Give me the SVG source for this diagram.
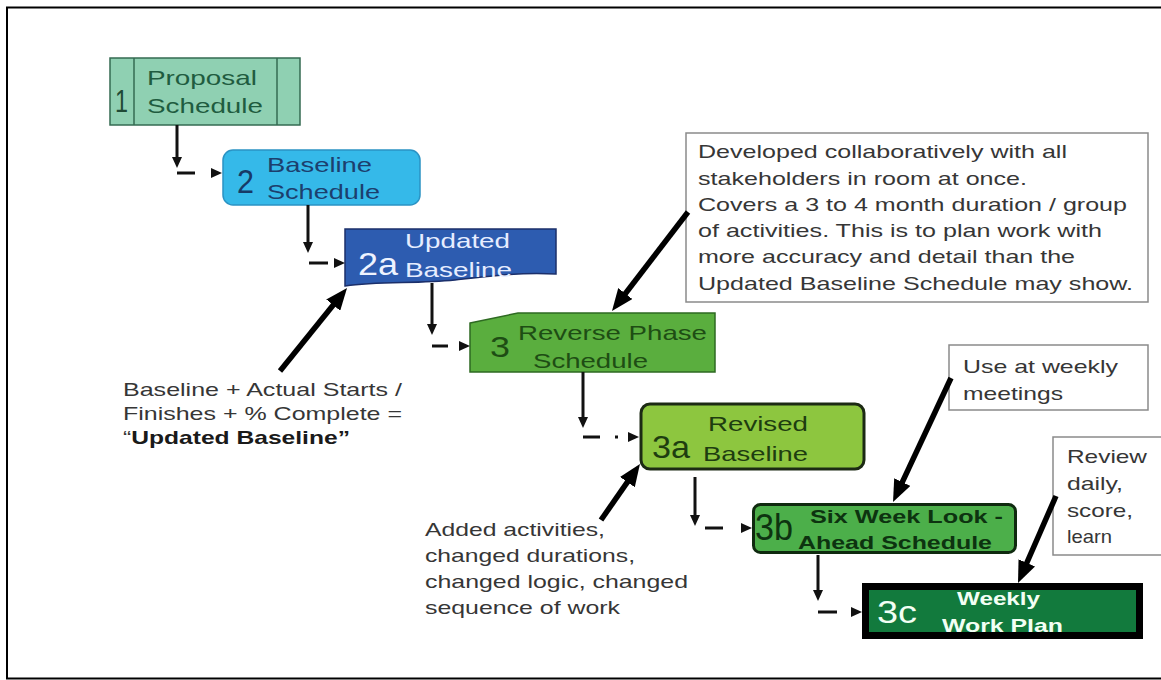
<svg xmlns="http://www.w3.org/2000/svg" width="1161" height="680" viewBox="0 0 1161 680">
  <style>
    text { font-family: "Liberation Sans", Arial, sans-serif; }
    .lbl { font-size: 21px; }
    .num { font-size: 32px; }
    .note { font-size: 19px; fill: #363636; }
    .bold { font-weight: bold; }
    .frame { stroke: #000; stroke-width: 2; fill: none; }
    .callout { fill: #fff; stroke: #8a8a8a; stroke-width: 1.5; }
    .step { stroke: #111; stroke-width: 3; fill: none; }
    .big { stroke: #000; stroke-width: 5.5; fill: none; marker-end: url(#bigHead); }
  </style>
  <defs>
    <marker id="smallHead" markerUnits="userSpaceOnUse" markerWidth="11" markerHeight="10" refX="0" refY="5" orient="auto">
      <path d="M0,0 L11,5 L0,10 Z" fill="#111"/>
    </marker>
    <marker id="bigHead" markerUnits="userSpaceOnUse" markerWidth="22" markerHeight="18" refX="10" refY="9" orient="auto">
      <path d="M0,0 L22,9 L0,18 Z" fill="#000"/>
    </marker>
  </defs>

  <rect width="1161" height="680" fill="#fff"/>

  <!-- page frame -->
  <g id="frame">
    <line class="frame" x1="6" y1="7.5" x2="1161" y2="7.5"/>
    <line class="frame" x1="7" y1="7" x2="7" y2="679"/>
    <line class="frame" x1="6" y1="678.5" x2="1161" y2="678.5"/>
  </g>

  <!-- 1 Proposal Schedule -->
  <g id="node-1">
    <rect x="110" y="58" width="190" height="67" fill="#8fd0b2" stroke="#356b52" stroke-width="1.5"/>
    <line x1="134" y1="58" x2="134" y2="125" stroke="#356b52" stroke-width="1.5"/>
    <line x1="277" y1="58" x2="277" y2="125" stroke="#356b52" stroke-width="1.5"/>
    <text class="num" x="115" y="112" textLength="13" lengthAdjust="spacingAndGlyphs" fill="#1f4a35">1</text>
    <text class="lbl" x="147" y="85" textLength="110" lengthAdjust="spacingAndGlyphs" fill="#1f5c40">Proposal</text>
    <text class="lbl" x="147" y="113" textLength="116" lengthAdjust="spacingAndGlyphs" fill="#1f5c40">Schedule</text>
  </g>

  <!-- 2 Baseline Schedule -->
  <g id="node-2">
    <rect x="223" y="150" width="197" height="55" rx="10" fill="#35b9e9" stroke="#2a93c4" stroke-width="1.5"/>
    <text x="237" y="193" font-size="34" textLength="17" lengthAdjust="spacingAndGlyphs" fill="#173a66">2</text>
    <text class="lbl" x="267" y="172" textLength="105" lengthAdjust="spacingAndGlyphs" fill="#1c3f6e">Baseline</text>
    <text class="lbl" x="267" y="199" textLength="113" lengthAdjust="spacingAndGlyphs" fill="#1c3f6e">Schedule</text>
  </g>

  <!-- 2a Updated Baseline -->
  <g id="node-2a">
    <path d="M345,229 H556 V274 C520,272 490,276 455,280 C415,284 380,281 345,286 Z" fill="#2d5cb0" stroke="#1b2f6a" stroke-width="1.5"/>
    <text class="num" x="358" y="275" textLength="40" lengthAdjust="spacingAndGlyphs" fill="#eef3ff">2a</text>
    <text class="lbl" x="405" y="248" textLength="105" lengthAdjust="spacingAndGlyphs" fill="#e6edff">Updated</text>
    <text class="lbl" x="405" y="277" textLength="107" lengthAdjust="spacingAndGlyphs" fill="#e6edff">Baseline</text>
  </g>

  <!-- 3 Reverse Phase Schedule -->
  <g id="node-3">
    <path d="M470,323 L518,313 H715 V372 H470 Z" fill="#5aae3e" stroke="#2e6a22" stroke-width="1.5"/>
    <text x="490" y="357" font-size="30" textLength="20" lengthAdjust="spacingAndGlyphs" fill="#1e4d14">3</text>
    <text class="lbl" x="518" y="340" textLength="189" lengthAdjust="spacingAndGlyphs" fill="#1e4d14">Reverse Phase</text>
    <text class="lbl" x="533" y="368" textLength="115" lengthAdjust="spacingAndGlyphs" fill="#1e4d14">Schedule</text>
  </g>

  <!-- 3a Revised Baseline -->
  <g id="node-3a">
    <rect x="641" y="404" width="223" height="65" rx="9" fill="#8dc63f" stroke="#1c2a14" stroke-width="3"/>
    <text class="num" x="652" y="458" textLength="38" lengthAdjust="spacingAndGlyphs" fill="#1e3d10">3a</text>
    <text class="lbl" x="708" y="431" textLength="100" lengthAdjust="spacingAndGlyphs" fill="#1e3d10">Revised</text>
    <text class="lbl" x="703" y="461" textLength="105" lengthAdjust="spacingAndGlyphs" fill="#1e3d10">Baseline</text>
  </g>

  <!-- 3b Six Week Look-Ahead Schedule -->
  <g id="node-3b">
    <rect x="753.5" y="504.5" width="262" height="48" rx="7" fill="#4caf4a" stroke="#0f2a0f" stroke-width="3"/>
    <text x="755" y="540" font-size="36" textLength="38" lengthAdjust="spacingAndGlyphs" fill="#0d3310">3b</text>
    <text class="bold" x="810" y="523" font-size="19" textLength="193" lengthAdjust="spacingAndGlyphs" fill="#0d3310">Six Week Look -</text>
    <text class="bold" x="798" y="549" font-size="19" textLength="194" lengthAdjust="spacingAndGlyphs" fill="#0d3310">Ahead Schedule</text>
  </g>

  <!-- 3c Weekly Work Plan -->
  <g id="node-3c">
    <rect x="865.5" y="586.5" width="274" height="49" fill="#127a3d" stroke="#000" stroke-width="7"/>
    <text class="num" x="877" y="623" textLength="40" lengthAdjust="spacingAndGlyphs" fill="#f2fff4">3c</text>
    <text class="bold" x="957" y="605" font-size="19" textLength="83" lengthAdjust="spacingAndGlyphs" fill="#f2fff4">Weekly</text>
    <text class="bold" x="942" y="632" font-size="19" textLength="121" lengthAdjust="spacingAndGlyphs" fill="#f2fff4">Work Plan</text>
  </g>

  <!-- explanatory notes -->
  <g id="note-collab">
    <rect class="callout" x="686" y="133" width="462" height="169"/>
    <text class="note" x="698" y="158" textLength="369" lengthAdjust="spacingAndGlyphs">Developed collaboratively with all</text>
    <text class="note" x="698" y="185" textLength="329" lengthAdjust="spacingAndGlyphs">stakeholders in room at once.</text>
    <text class="note" x="698" y="211" textLength="429" lengthAdjust="spacingAndGlyphs">Covers a 3 to 4 month duration / group</text>
    <text class="note" x="698" y="237" textLength="404" lengthAdjust="spacingAndGlyphs">of activities. This is to plan work with</text>
    <text class="note" x="698" y="263" textLength="377" lengthAdjust="spacingAndGlyphs">more accuracy and detail than the</text>
    <text class="note" x="698" y="290" textLength="435" lengthAdjust="spacingAndGlyphs">Updated Baseline Schedule may show.</text>
  </g>

  <g id="note-weekly">
    <rect class="callout" x="949" y="345" width="199" height="65"/>
    <text class="note" x="963" y="373" textLength="155" lengthAdjust="spacingAndGlyphs">Use at weekly</text>
    <text class="note" x="963" y="400" textLength="100" lengthAdjust="spacingAndGlyphs">meetings</text>
  </g>

  <g id="note-daily">
    <rect class="callout" x="1053" y="437" width="115" height="118"/>
    <text class="note" x="1067" y="463" textLength="80" lengthAdjust="spacingAndGlyphs">Review</text>
    <text class="note" x="1067" y="490" textLength="56" lengthAdjust="spacingAndGlyphs">daily,</text>
    <text class="note" x="1067" y="517" textLength="66" lengthAdjust="spacingAndGlyphs">score,</text>
    <text class="note" x="1067" y="543" textLength="45" lengthAdjust="spacingAndGlyphs">learn</text>
  </g>

  <g id="note-updated">
    <text class="note" x="123" y="396" textLength="279" lengthAdjust="spacingAndGlyphs">Baseline + Actual Starts /</text>
    <text class="note" x="123" y="420" textLength="279" lengthAdjust="spacingAndGlyphs">Finishes + % Complete =</text>
    <text class="note" x="123" y="444" textLength="227" lengthAdjust="spacingAndGlyphs">“<tspan class="bold" fill="#1a1a1a">Updated Baseline”</tspan></text>
  </g>

  <g id="note-revised">
    <text class="note" x="425" y="536" textLength="180" lengthAdjust="spacingAndGlyphs">Added activities,</text>
    <text class="note" x="425" y="562" textLength="210" lengthAdjust="spacingAndGlyphs">changed durations,</text>
    <text class="note" x="425" y="588" textLength="263" lengthAdjust="spacingAndGlyphs">changed logic, changed</text>
    <text class="note" x="425" y="614" textLength="195" lengthAdjust="spacingAndGlyphs">sequence of work</text>
  </g>

  <!-- step connectors and note pointers -->
  <g id="connectors">
    <!-- 1 -> 2 -->
    <path class="step" d="M177,125 V157" marker-end="url(#smallHead)"/>
    <path class="step" d="M177,173 H211" stroke-dasharray="18 16" marker-end="url(#smallHead)"/>
    <!-- 2 -> 2a -->
    <path class="step" d="M308,205 V242" marker-end="url(#smallHead)"/>
    <path class="step" d="M309,263 H334" stroke-dasharray="19 6" marker-end="url(#smallHead)"/>
    <!-- 2a -> 3 -->
    <path class="step" d="M432,283 V324" marker-end="url(#smallHead)"/>
    <path class="step" d="M432,346 H459" stroke-dasharray="16 11" marker-end="url(#smallHead)"/>
    <!-- 3 -> 3a -->
    <path class="step" d="M583,372 V417" marker-end="url(#smallHead)"/>
    <path class="step" d="M583,437 H628" stroke-dasharray="17 15 3 10" marker-end="url(#smallHead)"/>
    <!-- 3a -> 3b -->
    <path class="step" d="M695,477 V515" marker-end="url(#smallHead)"/>
    <path class="step" d="M705,528 H741" stroke-dasharray="18 18" marker-end="url(#smallHead)"/>
    <!-- 3b -> 3c -->
    <path class="step" d="M818,555 V590" marker-end="url(#smallHead)"/>
    <path class="step" d="M818,612 H851" stroke-dasharray="19 14" marker-end="url(#smallHead)"/>

    <!-- note pointers -->
    <line class="big" x1="280" y1="371" x2="339.5" y2="297.3"/>
    <line class="big" x1="601" y1="520" x2="633.1" y2="473.9"/>
    <line class="big" x1="688" y1="212" x2="619.3" y2="301.5"/>
    <line class="big" x1="951" y1="378" x2="898.1" y2="491.1"/>
    <line class="big" x1="1056" y1="496" x2="1022.8" y2="572"/>
  </g>
</svg>
